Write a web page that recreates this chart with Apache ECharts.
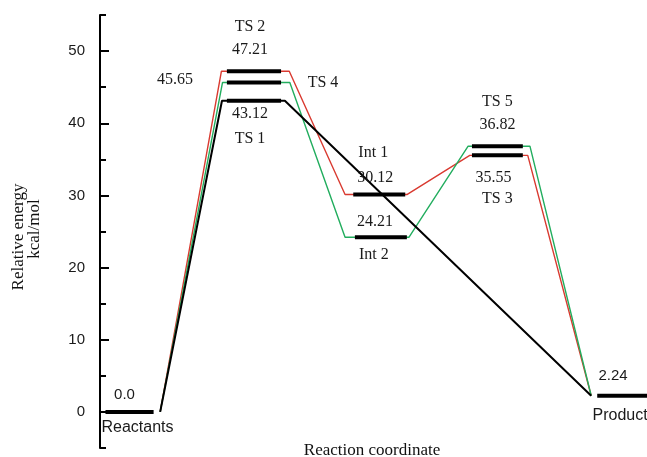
<!DOCTYPE html>
<html>
<head>
<meta charset="utf-8">
<script src="https://cdn.jsdelivr.net/npm/echarts@6/dist/echarts.min.js"></script>
<style>
  html, body { margin: 0; padding: 0; background: #fff; }
  #chart { width: 647px; height: 457px; }
</style>
</head>
<body>
<div id="chart"></div>
<script>
// Stationary points on the potential energy surface (kcal/mol)
const levelNames = ['Reactants', 'TS 2', 'TS 4', 'TS 1', 'Int 1', 'Int 2', 'TS 5', 'TS 3', 'Product'];
const levelEnergies = [0.0, 47.21, 45.65, 43.12, 30.12, 24.21, 36.82, 35.55, 2.24];
const levelDecimals = [1, 2, 2, 2, 2, 2, 2, 2, 2];
// Extent of each level along the reaction coordinate
const levelStart = [0.10, 2.32, 2.32, 2.32, 4.63, 4.66, 6.80, 6.80, 9.09];
const levelEnd   = [0.98, 3.31, 3.31, 3.31, 5.58, 5.61, 7.73, 7.73, 10.0];

// Reaction pathways: reaction coordinate positions and the level passed at each
const redPathX = [1.10, 2.22, 3.46, 4.48, 5.61, 6.76, 7.82, 8.98];
const redPathLevel = [0, 1, 1, 4, 4, 7, 7, 8];
const greenPathX = [1.10, 2.24, 3.47, 4.48, 5.65, 6.73, 7.86, 8.98];
const greenPathLevel = [0, 2, 2, 5, 5, 6, 6, 8];
const blackPathX = [1.10, 2.23, 3.38, 8.98];
const blackPathLevel = [0, 3, 3, 8];

// Energy axis ticks
const yMajorTicks = [0, 10, 20, 30, 40, 50];
const yMinorTicks = [-5, 5, 15, 25, 35, 45, 55];

// Label placement around each level (pixel offsets from the level's centre)
const labelLayout = [
  { vx: -5,  vy: -17, nx: 8,  ny: 16, sans: true },
  { vx: -4,  vy: -21, nx: -4, ny: -44 },
  { vx: -79, vy: -3,  nx: 69, ny: 0 },
  { vx: -4,  vy: 13,  nx: -4, ny: 38 },
  { vx: -4,  vy: -17, nx: -6, ny: -42 },
  { vx: -6,  vy: -15, nx: -7, ny: 18 },
  { vx: 0,   vy: -21, nx: 0,  ny: -44 },
  { vx: -4,  vy: 22,  nx: 0,  ny: 43 },
  { vx: -9,  vy: -20, nx: -2, ny: 20, sans: true }
];

const SERIF = '"Liberation Serif", "DejaVu Serif", serif';
const SANS = '"Liberation Sans", Arial, sans-serif';

function pathData(xs, levels) {
  return xs.map((x, k) => [x, levelEnergies[levels[k]]]);
}

const levelData = levelNames.map((n, i) => [levelStart[i], levelEnd[i], levelEnergies[i], i]);

const chart = echarts.init(document.getElementById('chart'), null, { renderer: 'canvas' });

chart.setOption({
  animation: false,
  backgroundColor: '#fff',
  grid: { left: 100, right: 0, top: 15, bottom: 9 },
  xAxis: { type: 'value', min: 0, max: 10, show: false },
  yAxis: [
    {
      type: 'value', min: -5, max: 55, position: 'left',
      axisLine: { show: true, lineStyle: { color: '#000', width: 2 } },
      axisTick: { show: true, inside: true, length: 9, customValues: yMajorTicks,
                  lineStyle: { color: '#000', width: 2 } },
      axisLabel: { customValues: yMajorTicks, color: '#1a1a1a', fontSize: 15,
                   fontFamily: SANS, margin: 15 },
      splitLine: { show: false }
    },
    {
      type: 'value', min: -5, max: 55, position: 'left',
      axisLine: { show: false },
      axisTick: { show: true, inside: true, length: 6, customValues: yMinorTicks,
                  lineStyle: { color: '#000', width: 2 } },
      axisLabel: { show: false },
      splitLine: { show: false }
    }
  ],
  series: [
    {
      type: 'line', data: pathData(redPathX, redPathLevel), yAxisIndex: 0,
      symbol: 'none', lineStyle: { color: '#d93a30', width: 1.4 }, z: 2
    },
    {
      type: 'line', data: pathData(greenPathX, greenPathLevel), yAxisIndex: 0,
      symbol: 'none', lineStyle: { color: '#22ad5e', width: 1.4 }, z: 2
    },
    {
      type: 'line', data: pathData(blackPathX, blackPathLevel), yAxisIndex: 0,
      symbol: 'none', lineStyle: { color: '#000', width: 2 }, z: 3
    },
    {
      type: 'custom', yAxisIndex: 0, z: 5, clip: false,
      data: levelData,
      renderItem: function (params, api) {
        const i = api.value(3);
        const p0 = api.coord([api.value(0), api.value(2)]);
        const p1 = api.coord([api.value(1), api.value(2)]);
        const cx = (p0[0] + p1[0]) / 2;
        const cy = p0[1];
        const L = labelLayout[i];
        const fam = L.sans ? SANS : SERIF;
        const size = L.sans ? 15 : 16;
        return {
          type: 'group',
          children: [
            { type: 'line', shape: { x1: p0[0], y1: cy, x2: p1[0], y2: cy },
              style: { stroke: '#000', lineWidth: 4 } },
            { type: 'text', x: cx + L.vx, y: cy + L.vy,
              style: { text: levelEnergies[i].toFixed(levelDecimals[i]), fontFamily: fam,
                       fontSize: size, fill: '#1a1a1a', align: 'center', verticalAlign: 'middle' } },
            { type: 'text', x: cx + L.nx, y: cy + L.ny,
              style: { text: levelNames[i], fontFamily: fam, fontSize: 16,
                       fill: '#1a1a1a', align: 'center', verticalAlign: 'middle' } }
          ]
        };
      }
    }
  ],
  graphic: [
    { type: 'text', x: 19, y: 237, rotation: Math.PI / 2,
      style: { text: 'Relative energy', fontFamily: SERIF, fontSize: 17, fill: '#111',
               align: 'center', verticalAlign: 'middle' } },
    { type: 'text', x: 35, y: 229, rotation: Math.PI / 2,
      style: { text: 'kcal/mol', fontFamily: SERIF, fontSize: 17, fill: '#111',
               align: 'center', verticalAlign: 'middle' } },
    { type: 'text', x: 372, y: 451,
      style: { text: 'Reaction coordinate', fontFamily: SERIF, fontSize: 17, fill: '#111',
               align: 'center', verticalAlign: 'middle' } }
  ]
});
</script>
</body>
</html>
